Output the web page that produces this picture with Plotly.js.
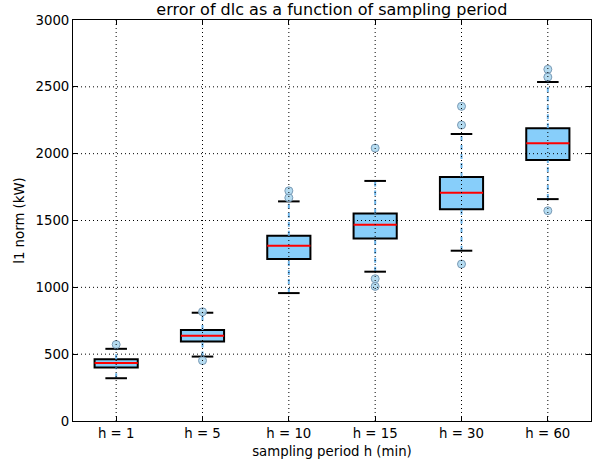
<!DOCTYPE html>
<html>
<head>
<meta charset="utf-8">
<script src="https://cdn.plot.ly/plotly-3.0.1.min.js"></script>
<style>html,body{margin:0;padding:0;background:#fff;}#chart{width:600px;height:463px;}</style>
</head>
<body>
<div id="chart"></div>
<script>
// Data
const categories = ["h = 1", "h = 5", "h = 10", "h = 15", "h = 30", "h = 60"];
const q1Values      = [400, 595, 1212, 1366, 1585, 1953];
const medianValues  = [434, 638, 1311, 1468, 1708, 2077];
const q3Values      = [462, 680, 1386, 1553, 1825, 2191];
const lowerWhisker  = [320, 482, 957, 1117, 1274, 1660];
const upperWhisker  = [540, 810, 1643, 1796, 2147, 2536];
const outliers = [
  [572],
  [817, 452],
  [1670, 1722],
  [2042, 1064, 1007],
  [2214, 2354, 1174],
  [2573, 2631, 1573]
];
const yTicks = [0, 500, 1000, 1500, 2000, 2500, 3000];

const pos = categories.map((c, i) => i + 1);
const boxW = 0.5, capW = 0.25;

function segs(xa, xb, ya, yb) {
  const xs = [], ys = [];
  for (let i = 0; i < pos.length; i++) {
    xs.push(xa[i], xb[i], null);
    ys.push(ya[i], yb[i], null);
  }
  return {x: xs, y: ys};
}

const whiskLow = segs(pos, pos, lowerWhisker, q1Values);
const whiskHigh = segs(pos, pos, q3Values, upperWhisker);
const whisk = {x: whiskLow.x.concat(whiskHigh.x), y: whiskLow.y.concat(whiskHigh.y)};
const capsLow = segs(pos.map(p => p - capW/2), pos.map(p => p + capW/2), lowerWhisker, lowerWhisker);
const capsHigh = segs(pos.map(p => p - capW/2), pos.map(p => p + capW/2), upperWhisker, upperWhisker);
const caps = {x: capsLow.x.concat(capsHigh.x), y: capsLow.y.concat(capsHigh.y)};
const med = segs(pos.map(p => p - boxW/2), pos.map(p => p + boxW/2), medianValues, medianValues);

const outX = [], outY = [];
outliers.forEach((arr, i) => arr.forEach(v => { outX.push(pos[i]); outY.push(v); }));

const traces = [
  {type: 'scatter', mode: 'lines', x: whisk.x, y: whisk.y, hoverinfo: 'skip',
   line: {color: '#6db6ec', width: 2, dash: '5px,4px'}},
  {type: 'bar', x: pos, base: q1Values, y: q3Values.map((v, i) => v - q1Values[i]), width: boxW,
   marker: {color: '#87cefa', line: {color: '#000', width: 2}}},
  {type: 'scatter', mode: 'lines', x: caps.x, y: caps.y, hoverinfo: 'skip',
   line: {color: '#000', width: 2}},
  {type: 'scatter', mode: 'lines', x: med.x, y: med.y, hoverinfo: 'skip',
   line: {color: '#ff0000', width: 2}},
  {type: 'scatter', mode: 'markers', x: outX, y: outY,
   marker: {symbol: 'circle', size: 8, color: 'rgba(173,216,240,0.9)', line: {color: '#7a9ab5', width: 1}}}
];

const shapes = [];
pos.forEach(p => shapes.push({type: 'line', layer: 'above', xref: 'x', yref: 'paper', x0: p, x1: p, y0: 0, y1: 1,
  line: {color: '#000', width: 1, dash: '1px,3px'}}));
yTicks.slice(1, -1).forEach(v => shapes.push({type: 'line', layer: 'above', xref: 'paper', yref: 'y', x0: 0, x1: 1, y0: v, y1: v,
  line: {color: '#000', width: 1, dash: '1px,3px'}}));

const font = {family: 'DejaVu Sans', size: 13.3, color: '#000'};
const layout = {
  width: 600, height: 463,
  margin: {l: 73, r: 9, t: 20, b: 42},
  paper_bgcolor: '#fff', plot_bgcolor: '#fff',
  showlegend: false,
  font: font,
  title: {text: 'error of dlc as a function of sampling period', font: {family: 'DejaVu Sans', size: 16, color: '#000'},
          x: 0.553, xanchor: 'center', y: 0.992, yanchor: 'top'},
  shapes: shapes,
  xaxis: {range: [0.5, 6.5], tickmode: 'array', tickvals: pos, ticktext: categories,
          showgrid: false, zeroline: false, showline: true, linecolor: '#000', linewidth: 1, mirror: 'allticks',
          ticks: 'inside', ticklen: 5, tickcolor: '#000', tickfont: font,
          title: {text: 'sampling period h (min)', font: font, standoff: 6}},
  yaxis: {range: [0, 3000], tickmode: 'array', tickvals: yTicks, ticktext: yTicks.map(String),
          showgrid: false, zeroline: false, showline: true, linecolor: '#000', linewidth: 1, mirror: 'allticks',
          ticks: 'inside', ticklen: 5, tickcolor: '#000', tickfont: font,
          title: {text: 'l1 norm (kW)', font: font, standoff: 7}}
};

Plotly.newPlot('chart', traces, layout, {displayModeBar: false, staticPlot: true});
</script>
</body>
</html>
